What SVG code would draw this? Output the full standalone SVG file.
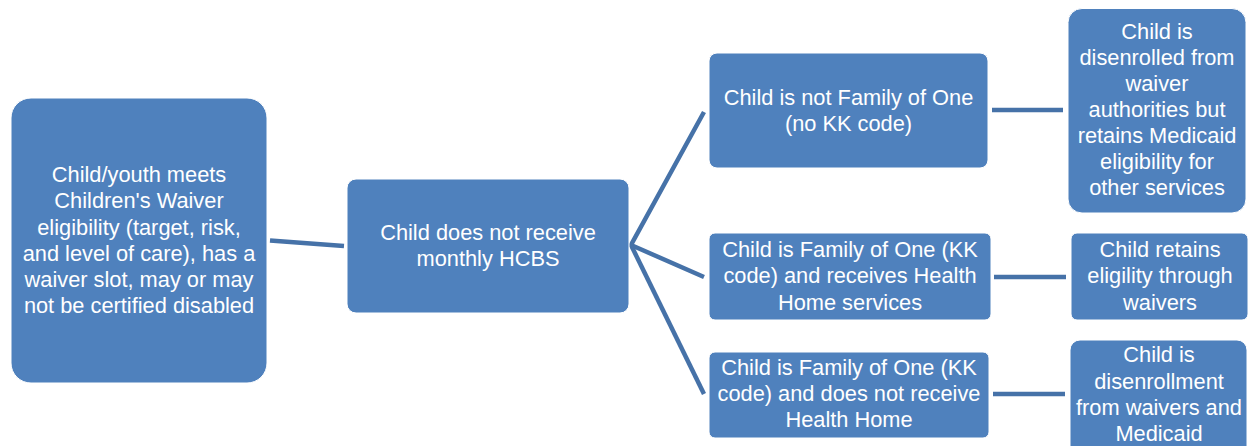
<svg xmlns="http://www.w3.org/2000/svg" width="1249" height="446" viewBox="0 0 1249 446">
<style>
.box{fill:#4F81BD;stroke:#ffffff;stroke-width:1}
.t{font-family:"Liberation Sans",Arial,sans-serif;font-size:21.8px;fill:#ffffff;text-anchor:middle}
.c{stroke:#4672A8;stroke-width:4.5;fill:none;stroke-linecap:butt}
</style>
<rect width="1249" height="446" fill="#ffffff"/>
<g id="connectors">
<line class="c" x1="270" y1="240.5" x2="344" y2="246"/>
<polyline class="c" points="704,112 631,245 704,277"/>
<line class="c" x1="631" y1="245" x2="704" y2="394"/>
<line class="c" x1="992" y1="110" x2="1063" y2="110"/>
<line class="c" x1="994" y1="277" x2="1066" y2="277"/>
<line class="c" x1="993" y1="394" x2="1065" y2="394"/>
</g>
<g id="n_start">
<rect class="box" x="11" y="98" width="256" height="285" rx="20"/>
<text class="t" x="139" y="182">Child/youth meets</text>
<text class="t" x="139" y="208">Children's Waiver</text>
<text class="t" x="139" y="234.5">eligibility (target, risk,</text>
<text class="t" x="139" y="260.5">and level of care), has a</text>
<text class="t" x="139" y="287">waiver slot, may or may</text>
<text class="t" x="139" y="313">not be certified disabled</text>
</g>
<g id="n_hcbs">
<rect class="box" x="347" y="179" width="282" height="134" rx="9"/>
<text class="t" x="488" y="240">Child does not receive</text>
<text class="t" x="488" y="266">monthly HCBS</text>
</g>
<g id="n_notfo1">
<rect class="box" x="709" y="53" width="279" height="115" rx="8"/>
<text class="t" x="848.5" y="105">Child is not Family of One</text>
<text class="t" x="848.5" y="131">(no KK code)</text>
</g>
<g id="n_fo1hh">
<rect class="box" x="709" y="233" width="282" height="87" rx="6"/>
<text class="t" x="850" y="256.5">Child is Family of One (KK</text>
<text class="t" x="850" y="283">code) and receives Health</text>
<text class="t" x="850" y="309.5">Home services</text>
</g>
<g id="n_fo1nohh">
<rect class="box" x="709" y="352" width="280" height="86" rx="6"/>
<text class="t" x="849" y="374.5">Child is Family of One (KK</text>
<text class="t" x="849" y="401">code) and does not receive</text>
<text class="t" x="849" y="427">Health Home</text>
</g>
<g id="n_disenrolled_waiver">
<rect class="box" x="1068" y="8.5" width="178" height="204.5" rx="14"/>
<text class="t" x="1157" y="38.5">Child is</text>
<text class="t" x="1157" y="64.5">disenrolled from</text>
<text class="t" x="1157" y="90.5">waiver</text>
<text class="t" x="1157" y="116.5">authorities but</text>
<text class="t" x="1157" y="142.5">retains Medicaid</text>
<text class="t" x="1157" y="168.5">eligibility for</text>
<text class="t" x="1157" y="195">other services</text>
</g>
<g id="n_retains">
<rect class="box" x="1071" y="233" width="177" height="87" rx="6"/>
<text class="t" x="1160" y="256.5">Child retains</text>
<text class="t" x="1160" y="283">eligility through</text>
<text class="t" x="1160" y="309.5">waivers</text>
</g>
<g id="n_disenrollment">
<rect class="box" x="1070" y="340" width="177" height="120" rx="10"/>
<text class="t" x="1159" y="362">Child is</text>
<text class="t" x="1159" y="388.5">disenrollment</text>
<text class="t" x="1159" y="415">from waivers and</text>
<text class="t" x="1159" y="440.5">Medicaid</text>
</g>
</svg>
